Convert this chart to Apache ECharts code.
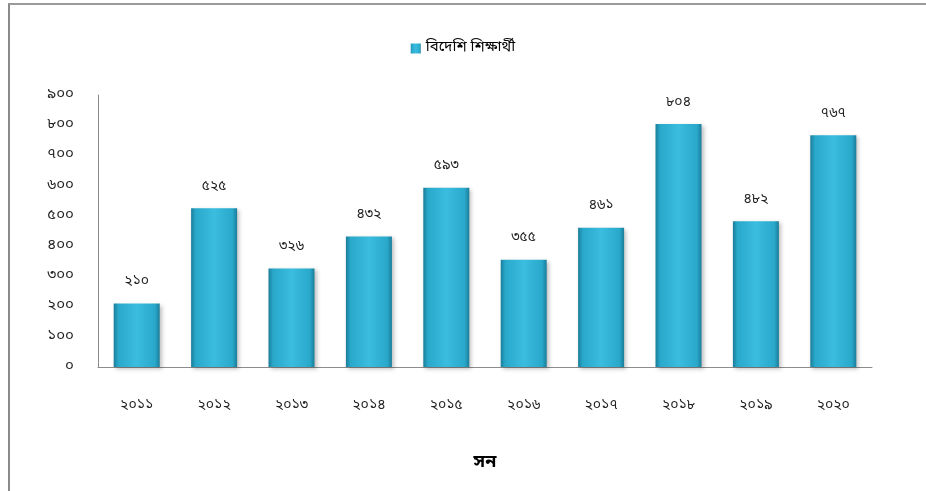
<!DOCTYPE html>
<html>
<head>
<meta charset="utf-8">
<script src="https://cdn.jsdelivr.net/npm/echarts@6/dist/echarts.min.js"></script>
<style>
html, body { margin: 0; padding: 0; background: #fff; }
#wrap { position: relative; width: 926px; height: 491px; }
#frame { position: absolute; left: 8px; top: 3px; right: 0; bottom: -2px; border-left: 2px solid #8a8a8a; border-top: 2px solid #9a9a9a; }
#chart { position: absolute; left: 0; top: 0; width: 926px; height: 491px; }
</style>
</head>
<body>
<div id="wrap">
<div id="frame"></div>
<div id="chart"></div>
</div>
<script>
// ডেটা
var years = ['২০১১', '২০১২', '২০১৩', '২০১৪', '২০১৫', '২০১৬', '২০১৭', '২০১৮', '২০১৯', '২০২০'];
var students = [210, 525, 326, 432, 593, 355, 461, 804, 482, 767];
var seriesName = 'বিদেশি শিক্ষার্থী';
var axisTitle = 'সন';

var bnDigits = ['০', '১', '২', '৩', '৪', '৫', '৬', '৭', '৮', '৯'];
function toBn(n) {
    return String(n).replace(/[0-9]/g, function (d) { return bnDigits[+d]; });
}

var font = "'Noto Sans Bengali', 'Noto Serif Bengali', 'Lohit Bengali', 'Noto Sans', sans-serif";

var chart = echarts.init(document.getElementById('chart'));
var option = {
    animation: false,
    legend: {
        top: 36,
        left: 'center',
        itemWidth: 10,
        itemHeight: 10,
        itemGap: 4,
        icon: 'rect',
        textStyle: { color: '#000', fontSize: 15, fontFamily: font },
        data: [seriesName]
    },
    grid: {
        left: 98,
        right: 54,
        top: 95,
        bottom: 124
    },
    xAxis: {
        type: 'category',
        data: years,
        name: axisTitle,
        nameLocation: 'middle',
        nameGap: 88,
        nameTextStyle: { color: '#000', fontSize: 18, fontWeight: 'bold', fontFamily: font },
        axisLine: { lineStyle: { color: '#8c8c8c', width: 1 } },
        axisTick: { show: false },
        axisLabel: { color: '#222', fontSize: 14, margin: 32, fontFamily: font }
    },
    yAxis: {
        type: 'value',
        min: 0,
        max: 900,
        interval: 100,
        axisLine: { show: true, lineStyle: { color: '#8c8c8c', width: 1 } },
        axisTick: { show: false },
        splitLine: { show: false },
        axisLabel: {
            color: '#222', fontSize: 15, margin: 24, fontFamily: font,
            formatter: function (v) { return toBn(v); }
        }
    },
    series: [{
        name: seriesName,
        type: 'bar',
        data: students,
        barWidth: 46,
        itemStyle: {
            color: new echarts.graphic.LinearGradient(0, 0, 1, 0, [
                { offset: 0, color: '#1a7d9a' },
                { offset: 0.1, color: '#29a8ca' },
                { offset: 0.5, color: '#3abddf' },
                { offset: 0.9, color: '#29a8ca' },
                { offset: 1, color: '#1a7d9a' }
            ]),
            shadowColor: 'rgba(0,0,0,0.25)',
            shadowBlur: 4,
            shadowOffsetX: 2,
            shadowOffsetY: 2
        },
        label: {
            show: true,
            position: 'top',
            distance: 14,
            color: '#222',
            fontSize: 14,
            fontFamily: font,
            formatter: function (p) { return toBn(p.value); }
        }
    }]
};
chart.setOption(option);
</script>
</body>
</html>
